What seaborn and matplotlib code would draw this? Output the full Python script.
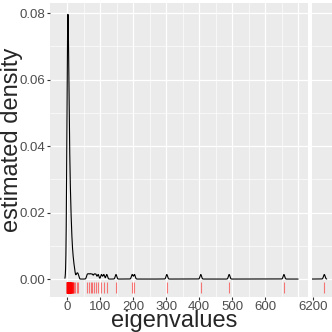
import numpy as np
import matplotlib
matplotlib.use("Agg")
import matplotlib.pyplot as plt
import seaborn as sns

# eigenvalues close to zero, stored as value -> multiplicity
cluster_vals = [0, 1, 2, 3, 4, 5, 6, 7, 8, 9, 10, 11, 12, 13, 14, 15, 16, 17, 18, 19, 21, 23]
cluster_counts = [12, 15, 14, 12, 9, 7, 6, 5, 4, 4, 3, 3, 2, 2, 2, 1, 1, 1, 1, 1, 1, 1]
# the larger, isolated eigenvalues
outlier_vals = [29, 33, 61, 66, 71, 76, 82, 87, 94, 104, 111, 120, 148,
                197, 204, 302, 405, 491, 657, 6233]

y_ticks = [0.00, 0.02, 0.04, 0.06, 0.08]
y_labels = ["0.00", "0.02", "0.04", "0.06", "0.08"]
x_ticks = [0, 100, 200, 300, 400, 500, 600, 700]
x_labels = ["0", "100", "200", "300", "400", "500", "600", ""]
right_ticks = [6200]
right_labels = ["6200"]

bandwidth = 2.3
break_lo, break_hi = 700, 6190

eig = np.concatenate([np.repeat(cluster_vals, cluster_counts), outlier_vals]).astype(float)
bw_factor = bandwidth / np.std(eig, ddof=1)

sns.set_theme(style="darkgrid", rc={
    "axes.facecolor": "#EBEBEB",
    "grid.color": "white",
    "axes.edgecolor": "#EBEBEB",
    "figure.facecolor": "white",
})
plt.rcParams["font.family"] = ["Liberation Sans", "DejaVu Sans"]

W = 332
fig = plt.figure(figsize=(3.32, 3.32), dpi=100)
ax1 = fig.add_axes([50 / W, 35 / W, 258 / W, 294.5 / W])
ax2 = fig.add_axes([312 / W, 35 / W, 20 / W, 294.5 / W], sharey=ax1)

for ax, clip in [(ax1, (None, break_lo)), (ax2, (break_hi, None))]:
    sns.kdeplot(x=eig, bw_method=bw_factor, gridsize=8000, clip=clip, cut=3,
                color="black", linewidth=0.8, ax=ax)
    ax.vlines(eig, -0.0041, -0.0008, color="red", alpha=0.5, linewidth=0.8)
    ax.set_xlabel("")
    ax.set_ylabel("")
    ax.grid(which="major", color="white", linewidth=0.9)
    ax.grid(which="minor", color="white", linewidth=0.45)
    for s in ax.spines.values():
        s.set_visible(False)

ax1.set_ylim(-0.0054, 0.0832)
ax1.set_yticks(y_ticks)
ax1.set_yticklabels(y_labels)
ax1.set_yticks([0.01, 0.03, 0.05, 0.07], minor=True)
ax1.set_xlim(-52, 730)
ax1.set_xticks(x_ticks)
ax1.set_xticklabels(x_labels)
ax1.set_xticks([50, 150, 250, 350, 450, 550, 650], minor=True)
ax1.tick_params(which="major", bottom=True, left=True, length=2.2, width=0.8,
                color="#333333", labelcolor="#4D4D4D", labelsize=9.5, pad=1)
ax1.tick_params(which="minor", length=0)
ax1.xaxis.get_major_ticks()[-1].tick1line.set_visible(False)

ax2.set_xlim(6198, 6255)
ax2.set_xticks(right_ticks)
ax2.set_xticklabels(right_labels)
ax2.tick_params(which="major", bottom=True, left=False, labelleft=False, length=2.2,
                width=0.8, color="#333333", labelcolor="#4D4D4D", labelsize=9.5, pad=1)
ax2.tick_params(which="minor", length=0)
ax2.xaxis.grid(False)

fig.text(174 / W, 1 - 327.5 / W, "eigenvalues", ha="center", va="baseline", fontsize=17)
fig.text(12 / W, 1 - 140 / W, "estimated density", ha="center", va="center",
         rotation=90, fontsize=17)

fig.savefig("out.png", dpi=100)
